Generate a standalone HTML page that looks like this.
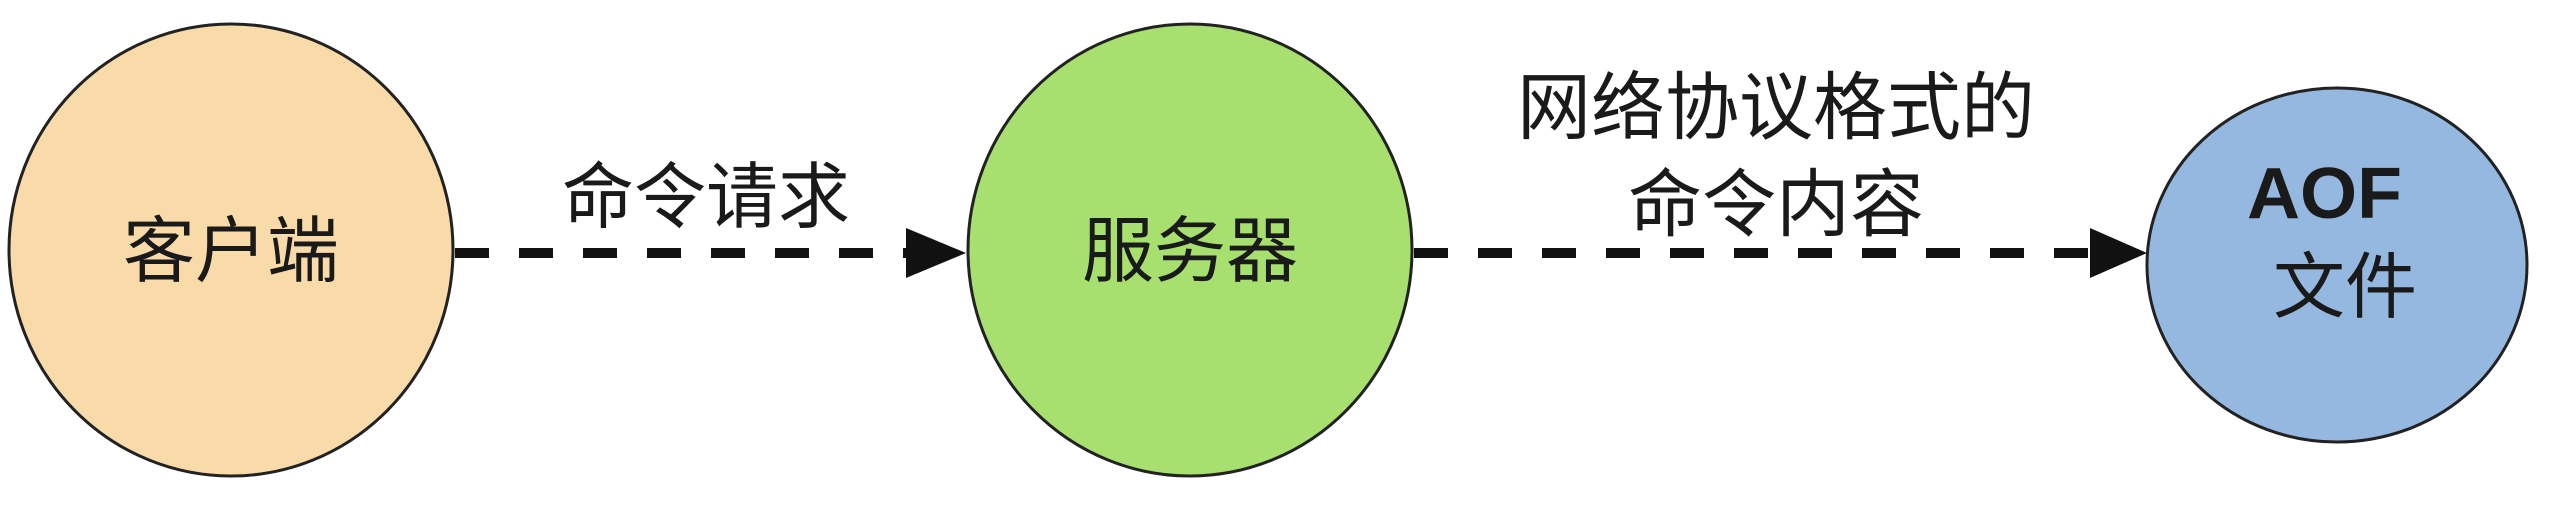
<!DOCTYPE html>
<html><head><meta charset="utf-8"><style>
html,body{margin:0;padding:0;background:#fff;width:2560px;height:506px;overflow:hidden}
svg text{font-family:"Liberation Sans","Noto Sans CJK SC",sans-serif;fill:#1a1a1a}
</style></head><body>
<svg width="2560" height="506" viewBox="0 0 2560 506" xmlns="http://www.w3.org/2000/svg">
<ellipse cx="231" cy="250" rx="222" ry="226" fill="#f9dba9" stroke="#222" stroke-width="3"/>
<ellipse cx="1190" cy="250" rx="222" ry="226" fill="#a7e06f" stroke="#222" stroke-width="3"/>
<ellipse cx="2337" cy="265" rx="190" ry="177" fill="#95b8e0" stroke="#222" stroke-width="3"/>
<line x1="455" y1="253" x2="908" y2="253" stroke="#111" stroke-width="10" stroke-dasharray="34 30"/>
<polygon points="906,228 966,253 906,278" fill="#111"/>
<line x1="1414" y1="253" x2="2090" y2="253" stroke="#111" stroke-width="10" stroke-dasharray="34 30"/>
<polygon points="2090,228 2147,253 2090,278" fill="#111"/>
<text x="231" y="276" font-size="72" text-anchor="middle">客户端</text>
<text x="1190" y="276" font-size="72" text-anchor="middle">服务器</text>
<text x="706" y="222" font-size="72" text-anchor="middle">命令请求</text>
<text x="1776" y="133" font-size="74" text-anchor="middle">网络协议格式的</text>
<text x="1776" y="230" font-size="74" text-anchor="middle">命令内容</text>
<text x="2247" y="218" font-size="72" font-weight="bold" textLength="155" lengthAdjust="spacingAndGlyphs">AOF</text>
<text x="2345" y="312" font-size="72" text-anchor="middle">文件</text>
</svg>
</body></html>
